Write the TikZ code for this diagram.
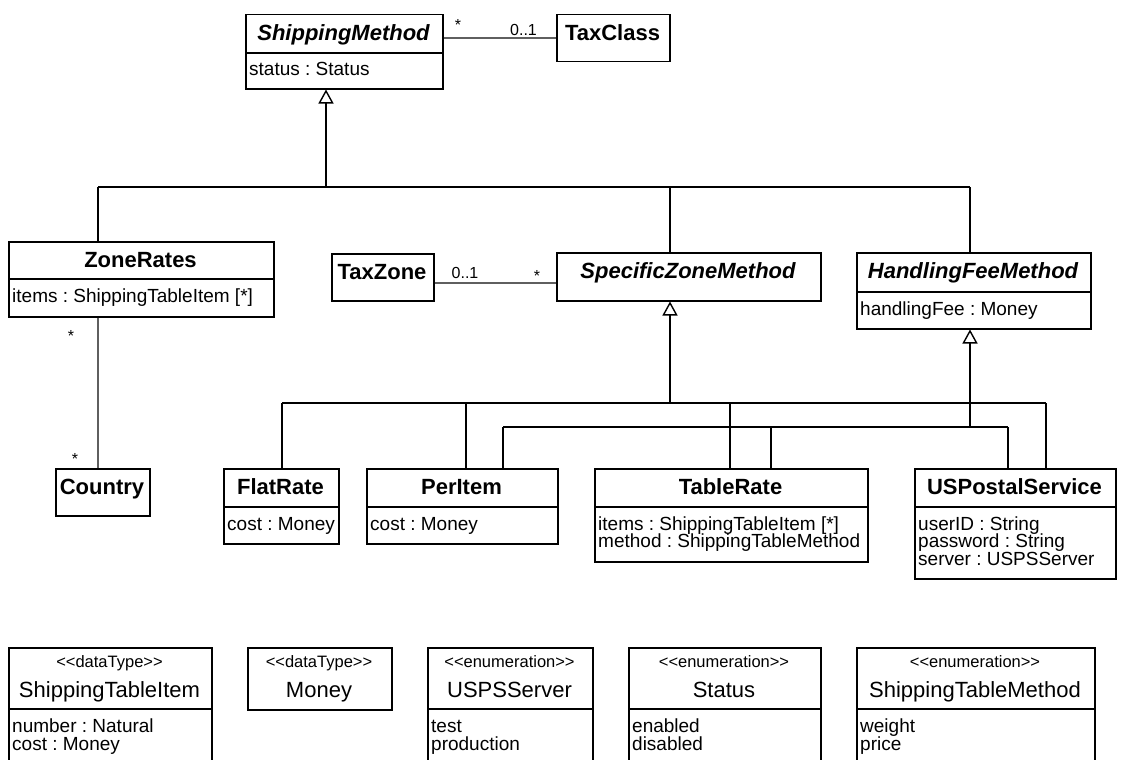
\documentclass[tikz,border=0pt]{standalone}
\usepackage{fontspec}
\setmainfont{Liberation Sans}
\usetikzlibrary{arrows.meta}
\definecolor{assocgray}{RGB}{95,95,95}
\frenchspacing
\newcommand{\stereotype}[1]{<{}<#1>{}>}
\begin{document}
\begin{tikzpicture}[x=1pt,y=-1pt,
  classbox/.style={draw=black,line width=1.5pt,fill=white,inner sep=0pt,anchor=north west},
  divider/.style={draw=black,line width=1.5pt},
  cname/.style={inner sep=0pt,anchor=base,font=\fontsize{22}{26}\selectfont\bfseries},
  aname/.style={inner sep=0pt,anchor=base,font=\fontsize{22}{26}\selectfont\bfseries\itshape},
  tname/.style={inner sep=0pt,anchor=base,font=\fontsize{22}{26}\selectfont},
  stereo/.style={inner sep=0pt,anchor=base,font=\fontsize{16.5}{19}\selectfont},
  attr/.style={inner sep=0pt,anchor=base west,font=\fontsize{19}{22}\selectfont},
  mult/.style={inner sep=0pt,anchor=base,font=\fontsize{16}{19}\selectfont},
  gen/.style={draw=black,line width=1.4pt},
  assoc/.style={draw=assocgray,line width=1.4pt},
  genarrow/.style={gen,-{Triangle[open,length=14pt,width=15pt,line width=1.4pt,fill=white]}},
]
\useasboundingbox (0,0) rectangle (1122,760);
\clip (0,0) rectangle (1122,760);
\fill[white] (0,0) rectangle (1122,760);

% ---------- class boxes ----------
\node[classbox,minimum width=197pt,minimum height=74pt] (sm) at (245,14) {};
\draw[divider] (sm.west |- 0,53) -- (sm.east |- 0,53);
\node[aname] (smT) at (343.5,40.5) {ShippingMethod};
\node[attr] (smA) at (249,76) {status : Status};

\node[classbox,minimum width=113pt,minimum height=47pt] (tc) at (556,14) {};
\node[cname] (tcT) at (612.5,40.5) {TaxClass};

\node[classbox,minimum width=265pt,minimum height=75pt] (zr) at (8,241) {};
\draw[divider] (zr.west |- 0,279) -- (zr.east |- 0,279);
\node[cname] (zrT) at (140.5,267.5) {ZoneRates};
\node[attr] (zrA) at (12,302) {items : ShippingTableItem [*]};

\node[classbox,minimum width=102pt,minimum height=47pt] (tz) at (331,253) {};
\node[cname] (tzT) at (382,279.5) {TaxZone};

\node[classbox,minimum width=264pt,minimum height=48pt] (szm) at (556,252) {};
\node[aname] (szmT) at (688,278.5) {SpecificZoneMethod};

\node[classbox,minimum width=234pt,minimum height=76pt] (hfm) at (856,252) {};
\draw[divider] (hfm.west |- 0,292) -- (hfm.east |- 0,292);
\node[aname] (hfmT) at (973,278.5) {HandlingFeeMethod};
\node[attr] (hfmA) at (860,315) {handlingFee : Money};

\node[classbox,minimum width=94pt,minimum height=47pt] (co) at (55,468) {};
\node[cname] (coT) at (102,494.5) {Country};

\node[classbox,minimum width=115pt,minimum height=75pt] (fr) at (223,468) {};
\draw[divider] (fr.west |- 0,507) -- (fr.east |- 0,507);
\node[cname] (frT) at (280.5,494.5) {FlatRate};
\node[attr] (frA) at (227,530) {cost : Money};

\node[classbox,minimum width=191pt,minimum height=75pt] (pi) at (366,468) {};
\draw[divider] (pi.west |- 0,507) -- (pi.east |- 0,507);
\node[cname] (piT) at (461.5,494.5) {PerItem};
\node[attr] (piA) at (370,530) {cost : Money};

\node[classbox,minimum width=273pt,minimum height=93pt] (tr) at (594,468) {};
\draw[divider] (tr.west |- 0,507) -- (tr.east |- 0,507);
\node[cname] (trT) at (730.5,494.5) {TableRate};
\node[attr] (trA1) at (598,530) {items : ShippingTableItem [*]};
\node[attr] (trA2) at (598,547.5) {method : ShippingTableMethod};

\node[classbox,minimum width=201pt,minimum height=110pt] (us) at (914,468) {};
\draw[divider] (us.west |- 0,507) -- (us.east |- 0,507);
\node[cname] (usT) at (1014.5,494.5) {USPostalService};
\node[attr] (usA1) at (918,530) {userID : String};
\node[attr] (usA2) at (918,547.5) {password : String};
\node[attr] (usA3) at (918,565) {server : USPSServer};

% ---------- data types and enumerations ----------
\node[classbox,minimum width=203pt,minimum height=140pt] (sti) at (8,647) {};
\draw[divider] (sti.west |- 0,709) -- (sti.east |- 0,709);
\node[stereo] (stiS) at (109.5,667) {\stereotype{dataType}};
\node[tname] (stiT) at (109.5,697) {ShippingTableItem};
\node[attr] (stiA1) at (12,732) {number : Natural};
\node[attr] (stiA2) at (12,750) {cost : Money};

\node[classbox,minimum width=144pt,minimum height=62pt] (mo) at (247,647) {};
\node[stereo] (moS) at (319,667) {\stereotype{dataType}};
\node[tname] (moT) at (319,697) {Money};

\node[classbox,minimum width=165pt,minimum height=140pt] (uss) at (427,647) {};
\draw[divider] (uss.west |- 0,709) -- (uss.east |- 0,709);
\node[stereo] (ussS) at (509.5,667) {\stereotype{enumeration}};
\node[tname] (ussT) at (509.5,697) {USPSServer};
\node[attr] (ussA1) at (431,732) {test};
\node[attr] (ussA2) at (431,750) {production};

\node[classbox,minimum width=192pt,minimum height=140pt] (st) at (628,647) {};
\draw[divider] (st.west |- 0,709) -- (st.east |- 0,709);
\node[stereo] (stS) at (724,667) {\stereotype{enumeration}};
\node[tname] (stT) at (724,697) {Status};
\node[attr] (stA1) at (632,732) {enabled};
\node[attr] (stA2) at (632,750) {disabled};

\node[classbox,minimum width=238pt,minimum height=140pt] (stm) at (856,647) {};
\draw[divider] (stm.west |- 0,709) -- (stm.east |- 0,709);
\node[stereo] (stmS) at (975,667) {\stereotype{enumeration}};
\node[tname] (stmT) at (975,697) {ShippingTableMethod};
\node[attr] (stmA1) at (860,732) {weight};
\node[attr] (stmA2) at (860,750) {price};

% ---------- associations ----------
\draw[assoc] (sm.east |- 0,38) -- (tc.west |- 0,38);
\node[mult] (m1) at (458,31) {*};
\node[mult] (m2) at (523.5,36) {0..1};

\draw[assoc] (tz.east |- 0,283) -- (szm.west |- 0,283);
\node[mult] (m3) at (465,278) {0..1};
\node[mult] (m4) at (537,281) {*};

\draw[assoc] (98,0 |- zr.south) -- (98,0 |- co.north);
\node[mult] (m5) at (71,341) {*};
\node[mult] (m6) at (75,464) {*};

% ---------- generalizations ----------
\coordinate (smBus) at (326,187);
\draw[gen] (98,187) -- (970,187);
\draw[genarrow] (smBus) -- (326,0 |- sm.south);
\draw[gen] (98,187) -- (98,0 |- zr.north);
\draw[gen] (670,187) -- (670,0 |- szm.north);
\draw[gen] (970,187) -- (970,0 |- hfm.north);

\coordinate (szmBus) at (670,403);
\draw[gen] (282,403) -- (1046,403);
\draw[genarrow] (szmBus) -- (670,0 |- szm.south);
\draw[gen] (282,403) -- (282,0 |- fr.north);
\draw[gen] (466,403) -- (466,0 |- pi.north);
\draw[gen] (730,403) -- (730,0 |- tr.north);
\draw[gen] (1046,403) -- (1046,0 |- us.north);

\coordinate (hfmBus) at (970,427);
\draw[gen] (503,427) -- (1008,427);
\draw[genarrow] (hfmBus) -- (970,0 |- hfm.south);
\draw[gen] (503,427) -- (503,0 |- pi.north);
\draw[gen] (771,427) -- (771,0 |- tr.north);
\draw[gen] (1008,427) -- (1008,0 |- us.north);
\end{tikzpicture}
\end{document}
